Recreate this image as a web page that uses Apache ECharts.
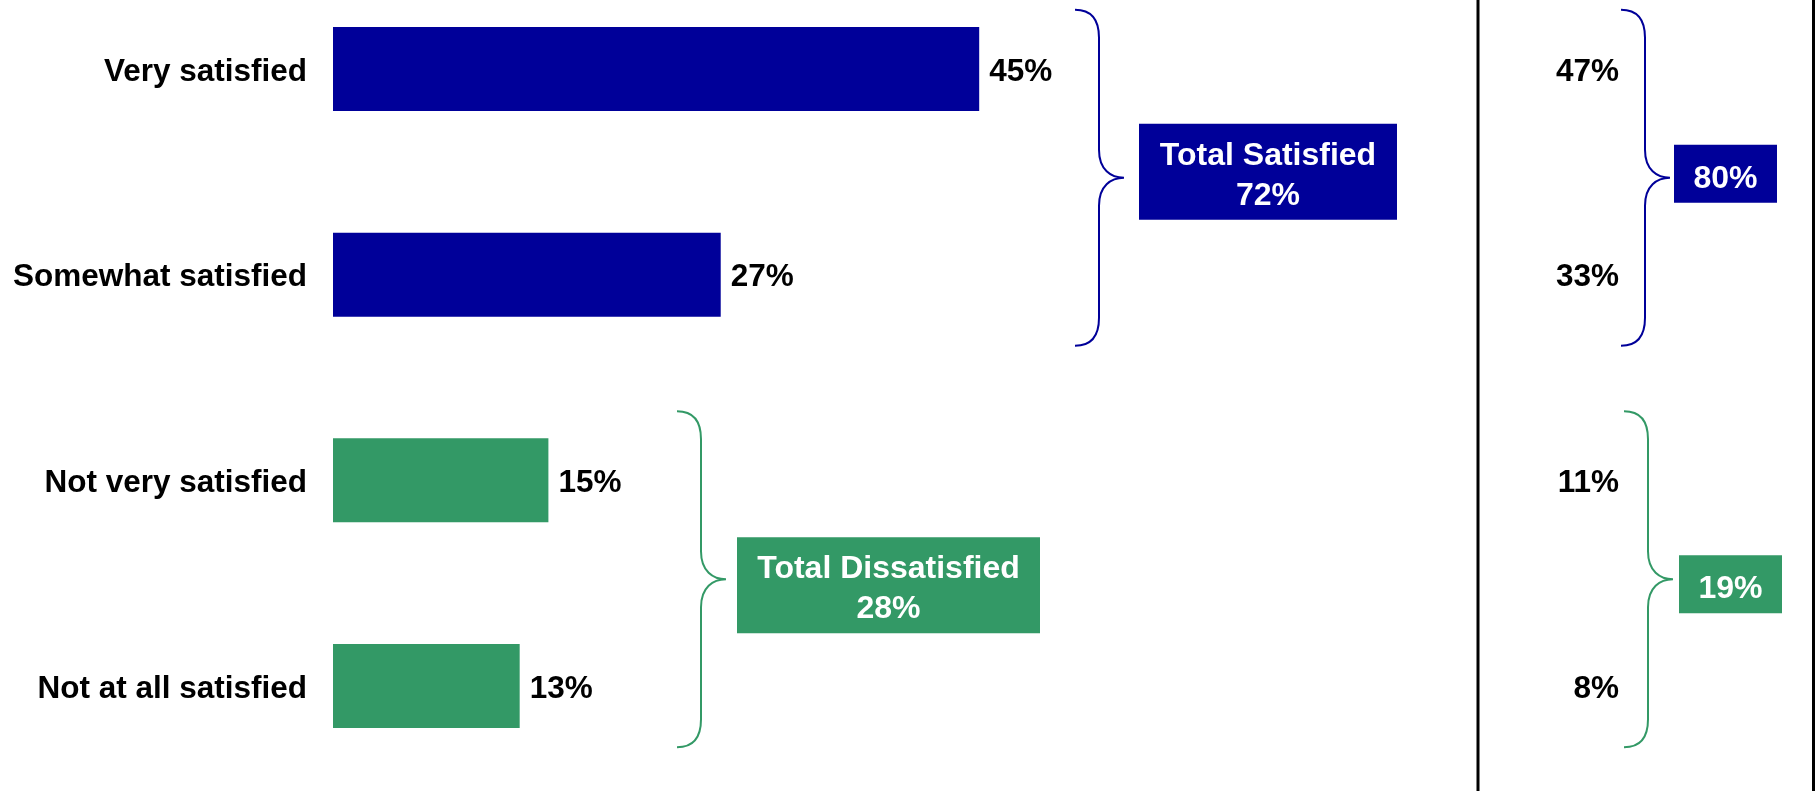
<!DOCTYPE html>
<html>
<head>
<meta charset="utf-8">
<script src="https://cdn.jsdelivr.net/npm/echarts@6/dist/echarts.min.js"></script>
<style>
html,body{margin:0;padding:0;background:#fff;}
#chart{width:1816px;height:791px;}
</style>
</head>
<body>
<div id="chart"></div>
<script>
const categories = ['Very satisfied', 'Somewhat satisfied', 'Not very satisfied', 'Not at all satisfied'];
const currentValues = [45, 27, 15, 13];
const previousValues = [47, 33, 11, 8];
const groupLabels = ['Total Satisfied', 'Total Dissatisfied'];
const groupTotals = [72, 28];
const previousTotals = [80, 19];
const groupStart = [0, 2];
const groupEnd = [1, 3];

const BLUE = '#000099';
const GREEN = '#339966';
const groupColors = [BLUE, GREEN];
const FONT = '"Liberation Sans", Arial, Helvetica, sans-serif';

// style/layout constants (pixels) for braces and boxes
const braceX = [[1075, 1621], [677, 1624]];      // [group][panel]
const braceShift = [6, -4];
const braceHalf = 168;
const boxes = [
  [{x: 1139, w: 258, h: 96, dy: 0}, {x: 1674, w: 103, h: 58, dy: 2}],
  [{x: 737, w: 303, h: 96, dy: 2}, {x: 1679, w: 103, h: 58, dy: 1}]
];

function bracePath(x0, yTop, yMid, yBot) {
  const xv = x0 + 24, xt = x0 + 49;
  return 'M' + x0 + ' ' + yTop +
    ' C' + (x0 + 16) + ' ' + yTop + ' ' + xv + ' ' + (yTop + 10) + ' ' + xv + ' ' + (yTop + 28) +
    ' L' + xv + ' ' + (yMid - 28) +
    ' C' + xv + ' ' + (yMid - 8) + ' ' + (x0 + 36) + ' ' + yMid + ' ' + xt + ' ' + yMid +
    ' C' + (x0 + 36) + ' ' + yMid + ' ' + xv + ' ' + (yMid + 8) + ' ' + xv + ' ' + (yMid + 28) +
    ' L' + xv + ' ' + (yBot - 28) +
    ' C' + xv + ' ' + (yBot - 10) + ' ' + (x0 + 16) + ' ' + yBot + ' ' + x0 + ' ' + yBot;
}

const chart = echarts.init(document.getElementById('chart'), null, {renderer: 'canvas'});

const labelStyle = {color: '#000', fontWeight: 'bold', fontSize: 31.5, fontFamily: FONT};
const richLabel = {
  formatter: function (v) { return '{a|' + v + '}'; },
  rich: {a: Object.assign({padding: [6, 0, 0, 0]}, labelStyle)}
};

const option = {
  backgroundColor: '#fff',
  animation: false,
  grid: [
    {left: 333, top: 69, width: 1436, height: 617, containLabel: false},
    {left: 1626, top: 69, width: 100, height: 617, containLabel: false}
  ],
  xAxis: [
    {type: 'value', gridIndex: 0, min: 0, max: 100, show: false},
    {type: 'value', gridIndex: 1, min: 0, max: 1, show: false}
  ],
  yAxis: [
    {
      type: 'category', gridIndex: 0, data: categories, inverse: true, boundaryGap: false,
      axisLine: {show: false}, axisTick: {show: false}, splitLine: {show: false},
      axisLabel: Object.assign({margin: 26}, labelStyle, richLabel)
    },
    {
      type: 'category', gridIndex: 1, data: previousValues.map(v => v + '%'), inverse: true, boundaryGap: false,
      axisLine: {show: false}, axisTick: {show: false}, splitLine: {show: false},
      axisLabel: Object.assign({margin: 7}, labelStyle, richLabel)
    }
  ],
  series: [
    {
      type: 'bar',
      xAxisIndex: 0, yAxisIndex: 0,
      barWidth: 84,
      data: currentValues.map((v, i) => ({value: v, itemStyle: {color: i < 2 ? BLUE : GREEN}})),
      label: Object.assign({show: true, position: 'right', distance: 10, offset: [0, 3], formatter: '{c}%'}, labelStyle)
    },
    {
      type: 'custom',
      xAxisIndex: 0, yAxisIndex: 0,
      clip: false,
      silent: true,
      data: [[0, 0], [0, 1], [1, 0], [1, 1]],
      encode: {x: 1, y: 0},
      renderItem: function (params, api) {
        const g = api.value(0);
        const p = api.value(1);
        const yA = api.coord([0, groupStart[g]])[1];
        const yB = api.coord([0, groupEnd[g]])[1];
        const b = boxes[g][p];
        const mid = (yA + yB) / 2 + b.dy;
        const bm = (yA + yB) / 2 + braceShift[g];
        const x0 = braceX[g][p];
        const text = p === 0 ? groupLabels[g] + '\n' + groupTotals[g] + '%' : previousTotals[g] + '%';
        return {
          type: 'group',
          children: [
            {
              type: 'path',
              shape: {pathData: bracePath(x0, bm - braceHalf, bm, bm + braceHalf)},
              style: {stroke: groupColors[g], lineWidth: 2, fill: null}
            },
            {
              type: 'rect',
              shape: {x: b.x, y: mid - b.h / 2, width: b.w, height: b.h},
              style: {fill: groupColors[g]}
            },
            {
              type: 'text',
              style: {
                text: text, x: b.x + b.w / 2, y: mid + (p === 1 ? 5 : 4),
                align: 'center', verticalAlign: 'middle',
                fill: '#fff', fontWeight: 'bold', fontSize: 32, fontFamily: FONT, lineHeight: 40
              }
            }
          ]
        };
      }
    }
  ],
  graphic: [
    {type: 'line', shape: {x1: 1478, y1: 0, x2: 1478, y2: 791}, style: {stroke: '#000', lineWidth: 3}},
    {type: 'line', shape: {x1: 1813.5, y1: 0, x2: 1813.5, y2: 791}, style: {stroke: '#000', lineWidth: 3}}
  ]
};

chart.setOption(option);
</script>
</body>
</html>
